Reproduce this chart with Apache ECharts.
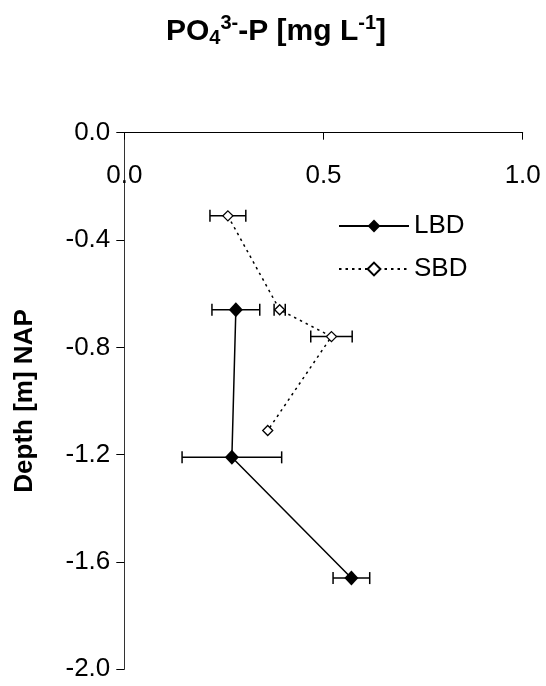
<!DOCTYPE html>
<html><head><meta charset="utf-8">
<script src="https://cdn.jsdelivr.net/npm/echarts@6/dist/echarts.min.js"></script>
<style>html,body{margin:0;padding:0;background:#fff}#c{width:546px;height:686px}</style>
</head><body><div id="c"></div>
<script>
const seriesNames = ['LBD', 'SBD'];
const lbdConc = [0.28, 0.27, 0.57];
const lbdDepth = [-0.66, -1.21, -1.66];
const lbdErr = [0.06, 0.125, 0.046];
const sbdConc = [0.26, 0.39, 0.52, 0.36];
const sbdDepth = [-0.31, -0.66, -0.76, -1.11];
const sbdErr = [0.045, 0.014, 0.052, 0];
const xMin = 0, xMax = 1.0, xStep = 0.5;
const yMin = -2.0, yMax = 0.0, yStep = 0.4;
const xTitle = '{a|PO}{sub|4}{sup|3-}{a|-P [mg L}{sup|-1}{a|]}';
const yTitle = 'Depth [m] NAP';

const FF = '"Liberation Sans", Arial, sans-serif';
const zip = (a, b) => a.map((v, i) => [v, b[i]]);
const zip3 = (a, b, c) => a.map((v, i) => [v, b[i], c[i]]);

function renderErr(params, api) {
  const x = api.value(0), y = api.value(1), e = api.value(2);
  if (!e) return null;
  const p1 = api.coord([x - e, y]), p2 = api.coord([x + e, y]);
  const h = 6;
  const st = { stroke: '#000', lineWidth: 1.5 };
  return { type: 'group', children: [
    { type: 'line', shape: { x1: p1[0], y1: p1[1], x2: p2[0], y2: p2[1] }, style: st },
    { type: 'line', shape: { x1: p1[0], y1: p1[1] - h, x2: p1[0], y2: p1[1] + h }, style: st },
    { type: 'line', shape: { x1: p2[0], y1: p2[1] - h, x2: p2[0], y2: p2[1] + h }, style: st }
  ]};
}

const chart = echarts.init(document.getElementById('c'), null, { renderer: 'canvas' });
chart.setOption({
  backgroundColor: '#fff',
  animation: false,
  textStyle: { fontFamily: FF, color: '#000' },
  title: {
    text: xTitle,
    left: 166, top: 6.4, padding: 0,
    textStyle: {
      rich: {
        a: { fontFamily: FF, fontSize: 30, fontWeight: 'bold', color: '#000', lineHeight: 50, verticalAlign: 'middle' },
        sup: { fontFamily: FF, fontSize: 20, fontWeight: 'bold', color: '#000', lineHeight: 20, verticalAlign: 'top', padding: [7, 0, 0, 0] },
        sub: { fontFamily: FF, fontSize: 20, fontWeight: 'bold', color: '#000', lineHeight: 20, verticalAlign: 'bottom', padding: [0, 0, 8, 0] }
      }
    }
  },
  legend: {
    data: seriesNames,
    orient: 'vertical',
    left: 338, top: 211, padding: 0,
    itemWidth: 70, itemHeight: 16, itemGap: 13,
    textStyle: { fontFamily: FF, fontSize: 26, color: '#000', lineHeight: 30 }
  },
  grid: { left: 124.3, right: 23.3, top: 132.7, bottom: 16.7, containLabel: false, outerBoundsMode: 'none' },
  xAxis: {
    type: 'value', position: 'top', min: xMin, max: xMax, interval: xStep,
    axisLine: { show: true, onZero: false, lineStyle: { color: '#000', width: 1 } },
    axisTick: { show: true, inside: true, length: 7, lineStyle: { color: '#000' } },
    axisLabel: { inside: true, margin: 30.5, fontSize: 26, fontFamily: FF, color: '#000', formatter: v => v.toFixed(1) },
    splitLine: { show: false }
  },
  yAxis: {
    type: 'value', min: yMin, max: yMax, interval: yStep,
    name: yTitle, nameLocation: 'middle', nameGap: 86,
    nameTextStyle: { fontFamily: FF, fontSize: 26, fontWeight: 'bold', color: '#000' },
    axisLine: { show: true, onZero: false, lineStyle: { color: '#333', width: 1 } },
    axisTick: { show: true, inside: false, length: 8, lineStyle: { color: '#000' } },
    axisLabel: { margin: 14, fontSize: 26, fontFamily: FF, color: '#000', formatter: v => v.toFixed(1) },
    splitLine: { show: false }
  },
  series: [
    { type: 'custom', name: 'LBDerr', renderItem: renderErr, encode: { x: 0, y: 1 }, data: zip3(lbdConc, lbdDepth, lbdErr), z: 1, silent: true },
    { type: 'custom', name: 'SBDerr', renderItem: renderErr, encode: { x: 0, y: 1 }, data: zip3(sbdConc, sbdDepth, sbdErr), z: 1, silent: true },
    {
      type: 'line', name: seriesNames[0], data: zip(lbdConc, lbdDepth), z: 3,
      symbol: 'diamond', symbolSize: [14, 15],
      itemStyle: { color: '#000' },
      lineStyle: { color: '#000', width: 1.5, type: 'solid' }
    },
    {
      type: 'line', name: seriesNames[1], data: zip(sbdConc, sbdDepth), z: 2,
      symbol: 'diamond', symbolSize: 10, showAllSymbol: true,
      itemStyle: { color: '#fff', borderColor: '#000', borderWidth: 1.3 },
      lineStyle: { color: '#000', width: 1.5, type: [2.5, 4] }
    }
  ]
});
</script></body></html>
